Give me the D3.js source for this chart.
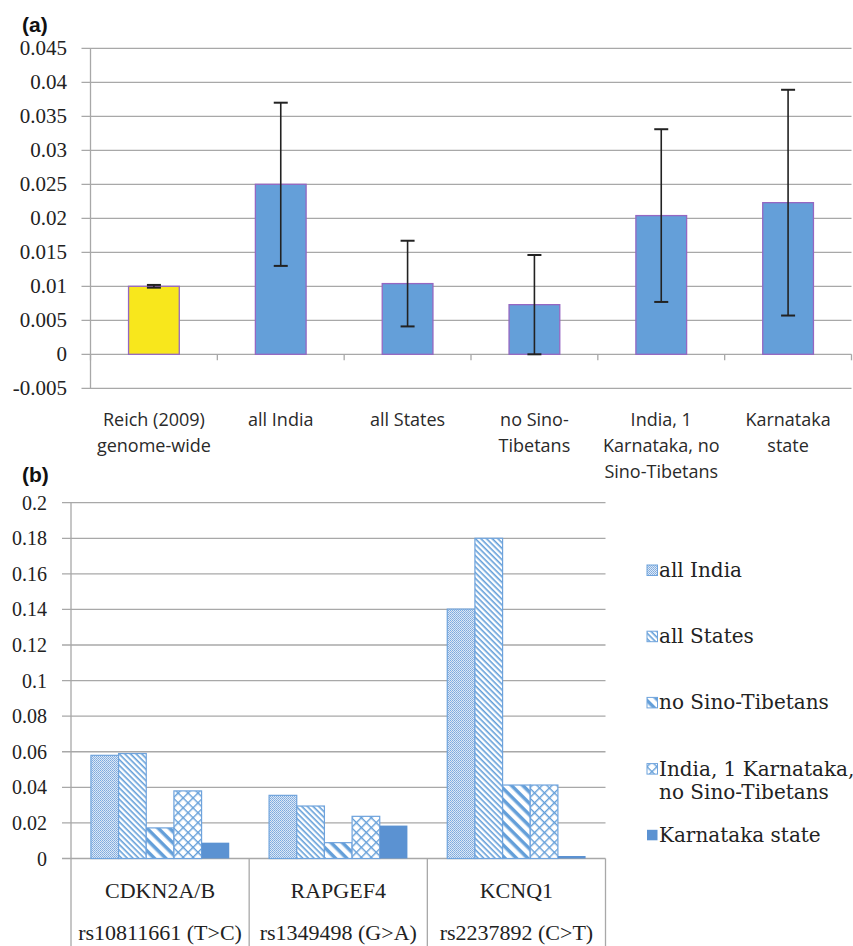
<!DOCTYPE html>
<html>
<head>
    <meta charset="utf-8">
    <title>Fst chart</title>
    <script src="https://d3js.org/d3.v7.min.js"></script>
    <style>
        body { margin: 0; background: #fff; }
        svg text.lab-a { font-family: "Open Sans", sans-serif; font-size: 18px; fill: #2a2a2a; }
        svg text.tick-num { font-family: "Liberation Serif", "Times New Roman", Times, serif; fill: #222; }
        svg text.lab-b { font-family: "Liberation Serif", "Times New Roman", serif; font-size: 22px; fill: #222; }
        svg text.leg-t { font-family: "DejaVu Serif", serif; font-size: 20px; fill: #222; }
        svg text.panel { font-family: "Liberation Sans", Arial, sans-serif; font-weight: bold; font-size: 21px; fill: #111; }
    </style>
</head>
<body>
    <svg id="chart" width="853" height="946"></svg>
    <script>
        // ---- panel (a) data
        const catsA = [
            ["Reich (2009)", "genome-wide"],
            ["all India"],
            ["all States"],
            ["no Sino-", "Tibetans"],
            ["India, 1", "Karnataka, no", "Sino-Tibetans"],
            ["Karnataka", "state"]
        ];
        const valsA = [0.0100, 0.0250, 0.0104, 0.0073, 0.0204, 0.0223];
        const errA = [0.0002, 0.0120, 0.0063, 0.0073, 0.0127, 0.0166];
        const ticksA = [-0.005, 0, 0.005, 0.01, 0.015, 0.02, 0.025, 0.03, 0.035, 0.04, 0.045];
        const tickLabelsA = ["-0.005", "0", "0.005", "0.01", "0.015", "0.02", "0.025", "0.03", "0.035", "0.04", "0.045"];

        // ---- panel (b) data
        const genes = ["CDKN2A/B", "RAPGEF4", "KCNQ1"];
        const snps = ["rs10811661 (T>C)", "rs1349498 (G>A)", "rs2237892 (C>T)"];
        const seriesNames = ["all India", "all States", "no Sino-Tibetans", ["India, 1 Karnataka,", "no Sino-Tibetans"], "Karnataka state"];
        const allIndia = [0.0580, 0.0355, 0.1402];
        const allStates = [0.0590, 0.0295, 0.1800];
        const noSino = [0.0172, 0.0089, 0.0413];
        const india1K = [0.0380, 0.0237, 0.0413];
        const karnataka = [0.0089, 0.0185, 0.0014];
        const ticksB = [0, 0.02, 0.04, 0.06, 0.08, 0.1, 0.12, 0.14, 0.16, 0.18, 0.2];
        const tickLabelsB = ["0", "0.02", "0.04", "0.06", "0.08", "0.1", "0.12", "0.14", "0.16", "0.18", "0.2"];

        const svg = d3.select("#chart");
        const grid = "#a8a8a8";
        const blue = "#649fd9";

        // patterns for panel (b)
        const defs = svg.append("defs");
        let p = defs.append("pattern").attr("id", "pDots").attr("width", 2).attr("height", 2)
            .attr("patternUnits", "userSpaceOnUse");
        p.append("rect").attr("width", 2).attr("height", 2).attr("fill", "#dce8f6");
        p.append("rect").attr("width", 1).attr("height", 1).attr("fill", "#7eaade");
        p.append("rect").attr("x", 1).attr("y", 1).attr("width", 1).attr("height", 1).attr("fill", "#8fb5e2");

        p = defs.append("pattern").attr("id", "pThin").attr("width", 4).attr("height", 4)
            .attr("patternUnits", "userSpaceOnUse").attr("patternTransform", "rotate(45)");
        p.append("rect").attr("width", 4).attr("height", 4).attr("fill", "#fff");
        p.append("rect").attr("width", 4).attr("height", 1.6).attr("fill", blue);

        p = defs.append("pattern").attr("id", "pWide").attr("width", 8).attr("height", 8)
            .attr("patternUnits", "userSpaceOnUse").attr("patternTransform", "rotate(45)");
        p.append("rect").attr("width", 8).attr("height", 8).attr("fill", "#fff");
        p.append("rect").attr("width", 8).attr("height", 3.5).attr("fill", blue);

        p = defs.append("pattern").attr("id", "pCross").attr("width", 7).attr("height", 7)
            .attr("patternUnits", "userSpaceOnUse").attr("patternTransform", "rotate(45)");
        p.append("rect").attr("width", 7).attr("height", 7).attr("fill", "#fff");
        p.append("rect").attr("width", 7).attr("height", 1.4).attr("fill", blue);
        p.append("rect").attr("width", 1.4).attr("height", 7).attr("fill", blue);

        const fills = ["url(#pDots)", "url(#pThin)", "url(#pWide)", "url(#pCross)", "#5b92d2"];

        // ================= panel (a) =================
        const xA = d3.scaleBand().domain(d3.range(catsA.length)).range([90.5, 851.5])
            .paddingInner(0.6).paddingOuter(0.3);
        const yA = d3.scaleLinear().domain([-0.005, 0.045]).range([388.3, 48.3]);

        svg.append("text").attr("class", "panel").attr("x", 22).attr("y", 32).text("(a)");

        const gA = svg.append("g");
        gA.selectAll("line.grid").data(ticksA).join("line")
            .attr("x1", 81.5).attr("x2", 851.5)
            .attr("y1", d => yA(d)).attr("y2", d => yA(d))
            .attr("stroke", grid).attr("stroke-width", 1.3);
        gA.append("line").attr("x1", 90.5).attr("x2", 90.5)
            .attr("y1", yA(0.045)).attr("y2", yA(-0.005)).attr("stroke", grid).attr("stroke-width", 1.3);
        gA.selectAll("text.tick").data(ticksA).join("text").attr("class", "tick-num")
            .attr("x", 67).attr("y", d => yA(d) + 7).attr("text-anchor", "end")
            .attr("font-size", 21).text((d, i) => tickLabelsA[i]);

        // category ticks on zero line
        const stepA = xA.step();
        gA.selectAll("line.ct").data(d3.range(catsA.length + 1)).join("line")
            .attr("x1", i => 90.5 + i * stepA).attr("x2", i => 90.5 + i * stepA)
            .attr("y1", yA(0)).attr("y2", yA(0) + 6)
            .attr("stroke", grid).attr("stroke-width", 1.3);

        gA.selectAll("rect.bar").data(valsA).join("rect")
            .attr("x", (d, i) => xA(i)).attr("width", xA.bandwidth())
            .attr("y", d => yA(d)).attr("height", d => yA(0) - yA(d))
            .attr("fill", (d, i) => i === 0 ? "#f8e71c" : blue)
            .attr("stroke", "#9567c2").attr("stroke-width", 1.3);

        // error bars
        const eb = gA.selectAll("g.err").data(valsA).join("g");
        eb.append("line")
            .attr("x1", (d, i) => xA(i) + xA.bandwidth() / 2).attr("x2", (d, i) => xA(i) + xA.bandwidth() / 2)
            .attr("y1", (d, i) => yA(d + errA[i])).attr("y2", (d, i) => yA(d - errA[i]))
            .attr("stroke", "#222").attr("stroke-width", 1.6);
        [1, -1].forEach(s => {
            eb.append("line")
                .attr("x1", (d, i) => xA(i) + xA.bandwidth() / 2 - 7).attr("x2", (d, i) => xA(i) + xA.bandwidth() / 2 + 7)
                .attr("y1", (d, i) => yA(d + s * errA[i])).attr("y2", (d, i) => yA(d + s * errA[i]))
                .attr("stroke", "#222").attr("stroke-width", 2);
        });

        gA.selectAll("text.cat").data(catsA).join("text").attr("class", "lab-a")
            .attr("text-anchor", "middle")
            .each(function (lines, i) {
                d3.select(this).selectAll("tspan").data(lines).join("tspan")
                    .attr("x", xA(i) + xA.bandwidth() / 2)
                    .attr("y", (l, j) => 426 + j * 26)
                    .text(l => l);
            });

        // ================= panel (b) =================
        const series = [allIndia, allStates, noSino, india1K, karnataka];
        const xB = d3.scaleBand().domain(d3.range(genes.length)).range([71, 605.5]);
        const xInner = d3.scaleBand().domain(d3.range(series.length)).range([0, xB.bandwidth()])
            .paddingOuter(0.72);
        const yB = d3.scaleLinear().domain([0, 0.2]).range([858.5, 502.7]);

        svg.append("text").attr("class", "panel").attr("x", 22).attr("y", 482).text("(b)");

        const gB = svg.append("g");
        gB.selectAll("line.grid").data(ticksB).join("line")
            .attr("x1", 62).attr("x2", 605.5)
            .attr("y1", d => yB(d)).attr("y2", d => yB(d))
            .attr("stroke", grid).attr("stroke-width", 1.3);
        gB.selectAll("text.tick").data(ticksB).join("text").attr("class", "tick-num")
            .attr("x", 47).attr("y", d => yB(d) + 7).attr("text-anchor", "end")
            .attr("font-size", 20).text((d, i) => tickLabelsB[i]);

        // axis + category table separators
        gB.append("line").attr("x1", 71).attr("x2", 71)
            .attr("y1", yB(0.2)).attr("y2", 946).attr("stroke", grid).attr("stroke-width", 1.3);
        gB.selectAll("line.sep").data(d3.range(1, genes.length + 1)).join("line")
            .attr("x1", i => 71 + i * xB.step()).attr("x2", i => 71 + i * xB.step())
            .attr("y1", yB(0)).attr("y2", 946).attr("stroke", grid).attr("stroke-width", 1.3);

        series.forEach((vals, s) => {
            gB.selectAll("rect.s" + s).data(vals).join("rect")
                .attr("x", (d, i) => xB(i) + xInner(s)).attr("width", xInner.bandwidth())
                .attr("y", d => yB(d)).attr("height", d => yB(0) - yB(d))
                .attr("fill", fills[s])
                .attr("stroke", s === 4 ? "none" : "#6fa3dc").attr("stroke-width", 1.2);
        });

        gB.selectAll("text.gene").data(genes).join("text").attr("class", "lab-b")
            .attr("x", (d, i) => xB(i) + xB.bandwidth() / 2).attr("y", 898)
            .attr("text-anchor", "middle").text(d => d);
        gB.selectAll("text.snp").data(snps).join("text").attr("class", "lab-b")
            .attr("x", (d, i) => xB(i) + xB.bandwidth() / 2).attr("y", 940)
            .attr("text-anchor", "middle").text(d => d);

        // legend
        const leg = gB.selectAll("g.leg").data(seriesNames).join("g")
            .attr("transform", (d, i) => `translate(647, ${577 + i * 66.2})`);
        leg.append("rect").attr("x", 0).attr("y", -12).attr("width", 10.5).attr("height", 10.5)
            .attr("fill", (d, i) => fills[i])
            .attr("stroke", (d, i) => i === 4 ? "none" : "#6fa3dc").attr("stroke-width", 1);
        leg.append("text").attr("class", "leg-t")
            .each(function (d) {
                const lines = Array.isArray(d) ? d : [d];
                d3.select(this).selectAll("tspan").data(lines).join("tspan")
                    .attr("x", 12).attr("y", (l, j) => j * 23.5)
                    .text(l => l);
            });
    </script>
</body>
</html>
